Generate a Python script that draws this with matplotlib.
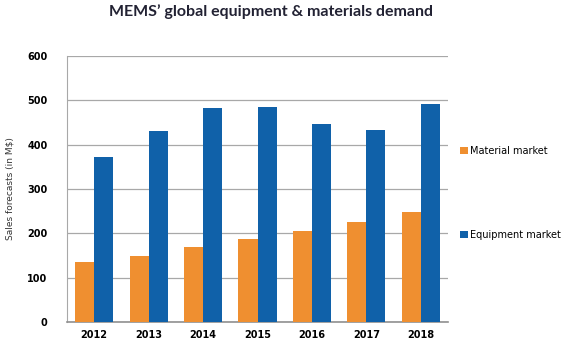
import matplotlib
matplotlib.use("Agg")
import matplotlib.pyplot as plt
import numpy as np

plt.rcParams["font.family"] = ["DejaVu Sans"]

years = ["2012", "2013", "2014", "2015", "2016", "2017", "2018"]
material = [135, 150, 170, 187, 205, 225, 247]
equipment = [373, 430, 483, 484, 446, 432, 491]
yticks = [0, 100, 200, 300, 400, 500, 600]

orange = "#EF8F30"
blue = "#1061A9"

fig = plt.figure(figsize=(5.67, 3.41), dpi=100)
ax = fig.add_axes([67/567, 1 - 322/341, (448-67)/567, (322-56)/341])

x = np.arange(len(years))
w = 0.35
ax.bar(x - w/2, material, w, color=orange, label="Material market", zorder=3)
ax.bar(x + w/2, equipment, w, color=blue, label="Equipment market", zorder=3)

ax.set_xlim(-0.5, len(years) - 0.5)
ax.set_ylim(0, 600)
ax.set_yticks(yticks)
ax.set_yticklabels([str(v) for v in yticks], fontsize=7, fontweight="bold", family="DejaVu Sans")
ax.set_xticks(x)
ax.set_xticklabels(years, fontsize=7, fontweight="bold", family="DejaVu Sans")
ax.tick_params(axis="both", length=0, pad=6)
ax.tick_params(axis="y", pad=14)
ax.grid(axis="y", color="#A8A8A8", linewidth=0.9, zorder=0)
for s in ["top", "right"]:
    ax.spines[s].set_visible(False)
ax.spines["left"].set_color("#A8A8A8")
ax.spines["bottom"].set_color("#909090")
ax.spines["bottom"].set_linewidth(1.2)

ax.set_ylabel("Sales forecasts (in M$)", fontsize=6.5, color="#333333", labelpad=9,
              family="DejaVu Sans")

fig.text(271/567, 1 - 12/341, "MEMS\u2019 global equipment & materials demand",
         ha="center", va="center", fontsize=11.5, fontweight="bold", color="#222233",
         family="Lato")

fig.legend(loc="upper left", bbox_to_anchor=(451/567, 1 - 137/341), frameon=False,
           prop={"family": "DejaVu Sans", "size": 7},
           handlelength=0.8, handleheight=0.8, handletextpad=0.3,
           labelspacing=7.6)

fig.savefig("out.png", dpi=100)
